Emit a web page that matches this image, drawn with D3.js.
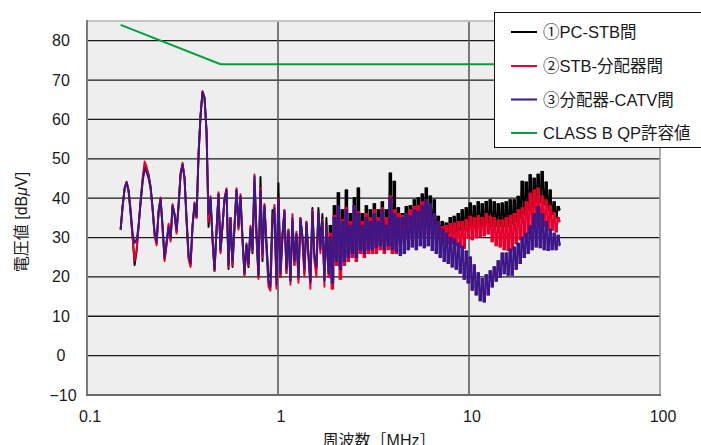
<!DOCTYPE html>
<html>
<head>
<meta charset="utf-8">
<script src="https://cdn.jsdelivr.net/npm/d3@7"></script>
<style>
  html, body { margin: 0; padding: 0; background: #ffffff; }
  svg { display: block; }
  text { font-family: "Liberation Sans", Arial, "Noto Sans CJK JP", sans-serif; fill: #1a1a1a; }
</style>
</head>
<body>
<svg id="chart" width="701" height="445"></svg>
<script>
// ---------------- data ----------------
const sweepStartMHz = 0.15;
const sweepStopMHz = 30;
const sweepPoints = 221;

const seriesNames = ["①PC-STB間", "②STB-分配器間", "③分配器-CATV間", "CLASS B QP許容値"];

// ① PC-STB間 [dBμV]
const pcStb = [
  32, 38, 42.5, 44, 41.5, 36, 30, 23, 26.5, 33,
  39, 44.5, 48, 47.5, 46, 43, 37.5, 30.5, 28.5, 36.5,
  39.8, 32.5, 24.5, 28.5, 33, 29.5, 38, 36, 31.5, 38,
  46, 48.5, 45, 34.5, 25, 23, 33, 38.5, 35, 51,
  61, 67, 65.5, 57, 32.7, 39.5, 29.5, 21.5, 31.5, 41,
  26.5, 33, 39.5, 42, 22, 35, 22.5, 32.5, 42, 32.5,
  40.5, 29.5, 20.5, 28, 22.5, 32, 26, 44, 30, 20,
  45.4, 24, 38, 29, 20, 20.5, 37, 36, 19.5, 43.8,
  20, 31, 37, 21, 32, 19, 34, 23, 31, 19.5,
  35, 30.5, 21, 34, 26, 19, 37.5, 25.5, 22, 37.5,
  28, 36, 19.5, 35, 22, 33, 19.5, 38, 25, 41.3,
  23, 37, 25, 42, 26, 36, 27, 40, 26, 42.5,
  28, 36, 27, 38, 28, 37, 28, 38.5, 28.5, 37,
  29, 39, 28.5, 37, 29, 46.3, 28, 44.2, 28, 37.5,
  30, 36, 31, 37.8, 31.5, 38, 32, 39.5, 32, 40,
  33, 41, 33, 42.5, 33, 40.5, 33, 39.5, 32, 35.3,
  31, 34, 31, 33.6, 31, 35, 31, 35.3, 31.5, 36,
  32, 37, 32, 37.5, 32.5, 38.7, 33, 38, 33, 39,
  33, 38.5, 33, 39.1, 33.5, 39.5, 33, 39, 33, 38.5,
  33, 38.7, 33, 39, 33, 39.5, 33.5, 39.5, 34, 40.4,
  35, 44.2, 36, 44, 37, 45.9, 38, 45, 39, 46,
  39, 46.7, 38.5, 44, 37, 42, 36, 39, 35, 37.8, 37
];

// ② STB-分配器間 [dBμV]
const stbSplitter = [
  32, 38, 42.5, 44.2, 42, 36.5, 30, 24, 27, 33,
  39.5, 45, 49.3, 48, 45.5, 42.5, 37, 30.5, 28, 37,
  40.2, 32, 24, 28, 33.5, 29, 38.5, 35.5, 31, 38.5,
  46.5, 49, 45, 34, 24.5, 22.5, 33, 39, 35, 51.5,
  61, 67.2, 65.5, 57, 34, 40.5, 29, 21.5, 32, 41.5,
  26, 33, 40, 42.5, 22.5, 35, 23, 33, 42.5, 32,
  41, 29, 20.5, 28, 23, 33, 26.5, 46, 31, 19.5,
  42.5, 25, 38.5, 27, 17.5, 16.5, 34, 38.3, 17, 40,
  20, 30, 37, 21, 32, 18, 36, 23, 31.5, 18.5,
  35, 29, 20, 34, 25, 17, 37, 24, 20, 36,
  26, 34.5, 17.5, 33, 20, 31, 17, 35.5, 23, 37,
  19.5, 34.5, 23, 37.5, 24, 34, 25, 38, 24, 36.5,
  26, 34, 25, 36, 26, 35, 26, 37, 26, 35,
  27, 37.5, 26, 35, 27, 40.5, 26, 37, 26, 36,
  28.5, 35.5, 29, 36, 29.5, 37, 30, 37.8, 30, 38,
  30.2, 39, 30.5, 39.5, 31, 38, 31, 35.3, 30.5, 34,
  29.5, 32.7, 29, 33, 28.5, 33.5, 28.5, 33.6, 28, 34,
  27.5, 34, 27.3, 34.5, 29.8, 35.3, 29.5, 35, 30, 35.5,
  30.2, 35, 30.5, 36, 31, 35.3, 29, 35, 28, 34.4,
  27.7, 34.4, 27, 35, 26.8, 35.5, 27, 36, 28.5, 37,
  29.5, 37.5, 30.2, 39, 31, 41.2, 32.5, 42, 33.6, 42.5,
  33, 40.5, 33, 39.5, 32, 38, 31.9, 36.2, 31.5, 35, 34
];

// ③ 分配器-CATV間 [dBμV]
const splitterCatv = [
  32, 38, 42.5, 44, 42, 37, 31, 28.6, 29.5, 33,
  39, 44, 47.5, 46.5, 45, 42.5, 37.5, 31.5, 29, 36.5,
  39.8, 33, 25, 29, 32.5, 30, 38, 36, 32, 38,
  46, 48.5, 45, 35, 26, 23.5, 33, 38.5, 35.5, 51,
  61, 67, 65.5, 57, 36, 40, 30, 22, 32, 41,
  27, 33, 40, 42, 23, 35, 24, 33, 42, 33,
  40.5, 30, 21, 28.5, 23.5, 32.5, 27, 45.5, 32, 20.5,
  42, 26, 38, 28, 19, 17.5, 33, 37.5, 18, 39.5,
  21, 30, 36.5, 22, 31.5, 19, 35, 24, 31, 20,
  34.5, 30, 22, 33.5, 26, 18.5, 36.5, 25, 22.5, 36.5,
  27, 34, 19, 33, 21, 30, 18.5, 35, 24, 38,
  22, 34, 24, 37, 25, 33, 26, 38, 25, 36,
  27, 33, 26, 35, 27, 34, 27, 36, 27.5, 34,
  28, 37, 27, 33, 28, 40, 27, 36, 26.5, 35,
  25.5, 35, 26, 36, 27, 35.5, 27.7, 37, 27, 36.5,
  28, 38, 27.5, 39.5, 28, 38.5, 26.8, 36, 26, 34,
  25, 32, 24, 31, 23.5, 30, 22.6, 29.5, 22, 28.5,
  21, 27.7, 19.5, 26.5, 18.5, 25, 16.7, 23, 15.5, 21,
  14, 19.5, 13.7, 20.5, 15.5, 21.5, 17.5, 22.5, 19, 24,
  20, 26, 20.9, 26, 20.5, 27, 20.5, 27.5, 22, 28.5,
  23.5, 30, 25, 31, 26, 33, 27, 36, 27.7, 37.8,
  27.5, 36, 27, 34, 26.8, 32, 27, 31, 27, 30.5, 28
];

// CLASS B QP limit
const limitFreqMHz = [0.15, 0.5, 30];
const limitValues = [84, 74, 74];

const xTickValues = [0.1, 1, 10, 100];
const xTickLabels = ["0.1", "1", "10", "100"];
const yTickValues = [-10, 0, 10, 20, 30, 40, 50, 60, 70, 80];
const yTickLabels = ["\u221210", "0", "10", "20", "30", "40", "50", "60", "70", "80"];

const seriesColors = ["#000000", "#e5002d", "#3e1787", "#00a040"];

// ---------------- layout ----------------
const plot = { left: 87, right: 660, top: 21, bottom: 395 };
const svg = d3.select("#chart");

const x = d3.scaleLog().domain([0.1, 100]).range([plot.left, plot.right]);
const y = d3.scaleLinear().domain([-10, 85]).range([plot.bottom, plot.top]);

const sweepFreqMHz = d3.range(sweepPoints).map(i =>
  sweepStartMHz * Math.pow(sweepStopMHz / sweepStartMHz, i / (sweepPoints - 1)));

// background
svg.append("rect")
  .attr("x", plot.left).attr("y", plot.top)
  .attr("width", plot.right - plot.left).attr("height", plot.bottom - plot.top)
  .attr("fill", "#eeeeee");

// horizontal grid
svg.append("g").selectAll("line")
  .data(yTickValues.filter(v => v > -10))
  .join("line")
  .attr("x1", plot.left - 1).attr("x2", plot.right)
  .attr("y1", d => y(d)).attr("y2", d => y(d))
  .attr("stroke", "#1a1a1a").attr("stroke-width", 1.3);

// vertical grid
svg.append("g").selectAll("line")
  .data([1, 10])
  .join("line")
  .attr("x1", d => x(d)).attr("x2", d => x(d))
  .attr("y1", plot.top).attr("y2", plot.bottom)
  .attr("stroke", "#5a5a5a").attr("stroke-width", 1.6);

// frame
svg.append("line").attr("x1", plot.left).attr("x2", plot.right).attr("y1", plot.top).attr("y2", plot.top)
  .attr("stroke", "#c4c4c4").attr("stroke-width", 2);
svg.append("line").attr("x1", plot.right).attr("x2", plot.right).attr("y1", plot.top).attr("y2", plot.bottom)
  .attr("stroke", "#9a9a9a").attr("stroke-width", 1.6);
svg.append("line").attr("x1", plot.left).attr("x2", plot.left).attr("y1", plot.top - 1).attr("y2", plot.bottom + 1)
  .attr("stroke", "#7a7a7a").attr("stroke-width", 2);
svg.append("line").attr("x1", plot.left - 1).attr("x2", plot.right + 1).attr("y1", plot.bottom).attr("y2", plot.bottom)
  .attr("stroke", "#6a6a6a").attr("stroke-width", 2);

// clip
svg.append("clipPath").attr("id", "clip").append("rect")
  .attr("x", plot.left).attr("y", plot.top)
  .attr("width", plot.right - plot.left).attr("height", plot.bottom - plot.top);

const line = d3.line().x(d => x(d[0])).y(d => y(d[1]));
const stepLine = d3.line().x(d => x(d[0])).y(d => y(d[1])).curve(d3.curveStep);
const dataLayer = svg.append("g").attr("clip-path", "url(#clip)");

[pcStb, stbSplitter, splitterCatv].forEach((vals, k) => {
  const n = Math.min(vals.length, sweepFreqMHz.length);
  const pts = d3.range(n).map(i => [sweepFreqMHz[i], vals[i]]);
  // straight polyline for the whole sweep
  dataLayer.append("path")
    .attr("d", line(pts))
    .attr("fill", "none")
    .attr("stroke", seriesColors[k])
    .attr("stroke-width", 1.9)
    .attr("stroke-linejoin", "round");
  // receiver-style hold trace (fills the dense high-frequency band)
  dataLayer.append("path")
    .attr("d", stepLine(pts.filter(p => p[0] >= 1.8)))
    .attr("fill", "none")
    .attr("stroke", seriesColors[k])
    .attr("stroke-width", 1.6);
});

dataLayer.append("path")
  .attr("d", line(limitFreqMHz.map((f, i) => [f, limitValues[i]])))
  .attr("fill", "none")
  .attr("stroke", seriesColors[3])
  .attr("stroke-width", 2);

// y tick labels
svg.append("g").selectAll("text")
  .data(yTickValues)
  .join("text")
  .attr("x", (d, i) => d === -10 ? 63 : 61)
  .attr("y", d => y(d))
  .attr("text-anchor", "middle")
  .attr("dominant-baseline", "central")
  .attr("font-size", 16)
  .text((d, i) => yTickLabels[i]);

// x tick labels
svg.append("g").selectAll("text")
  .data(xTickValues)
  .join("text")
  .attr("x", d => x(d) + 3)
  .attr("y", 422)
  .attr("text-anchor", "middle")
  .attr("font-size", 16)
  .text((d, i) => xTickLabels[i]);

// axis titles
svg.append("text")
  .attr("x", 379).attr("y", 446)
  .attr("text-anchor", "middle")
  .attr("font-size", 16)
  .text("周波数［MHz］");

const yTitle = svg.append("text")
  .attr("transform", "translate(27,222) rotate(-90)")
  .attr("text-anchor", "middle")
  .attr("font-size", 16);
yTitle.append("tspan").text("電圧値 [dB");
yTitle.append("tspan").attr("font-style", "italic").text("μ");
yTitle.append("tspan").text("V]");

// legend
const legend = svg.append("g");
legend.append("rect")
  .attr("x", 494.5).attr("y", 12.5)
  .attr("width", 230).attr("height", 135)
  .attr("fill", "#ffffff").attr("stroke", "#111").attr("stroke-width", 1);
const legendRowY = [32, 66, 99.5, 133];
seriesNames.forEach((name, i) => {
  legend.append("line")
    .attr("x1", 511).attr("x2", 537)
    .attr("y1", legendRowY[i]).attr("y2", legendRowY[i])
    .attr("stroke", seriesColors[i]).attr("stroke-width", 2);
  legend.append("text")
    .attr("x", 543).attr("y", legendRowY[i])
    .attr("dominant-baseline", "central")
    .attr("font-size", 16.5)
    .text(name);
});
</script>
</body>
</html>
